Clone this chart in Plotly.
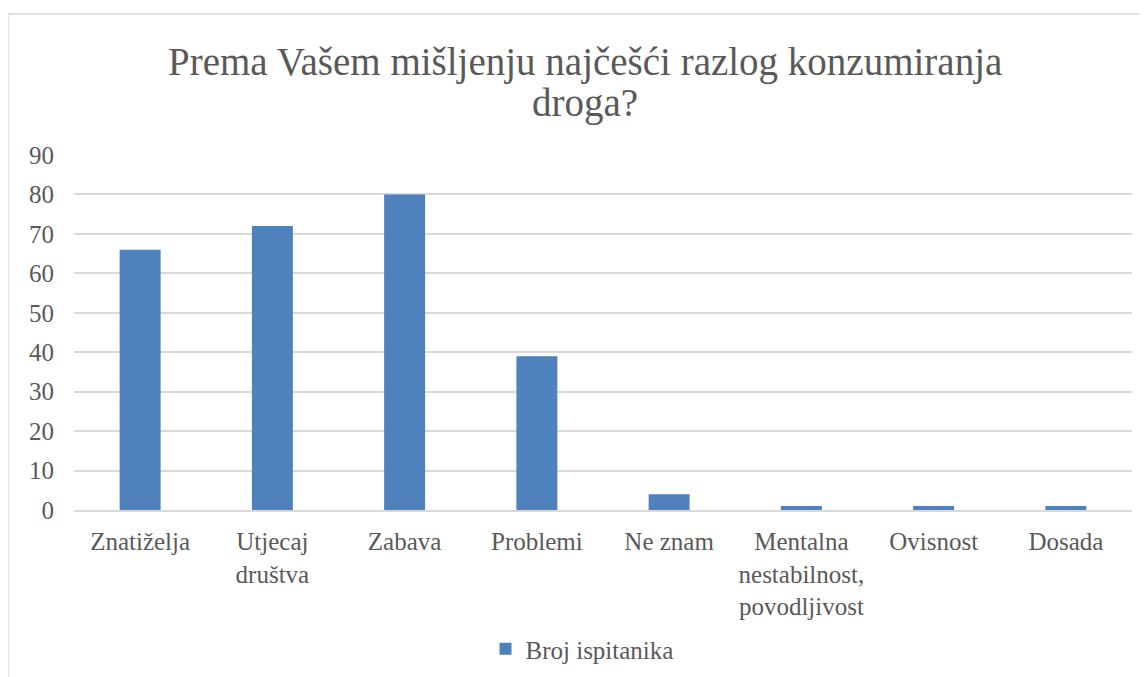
import plotly.graph_objects as go

categories = ["Znatiželja", "Utjecaj<br>društva", "Zabava", "Problemi", "Ne znam",
              "Mentalna<br>nestabilnost,<br>povodljivost", "Ovisnost", "Dosada"]
values = [66, 72, 80, 39, 4, 1, 1, 1]
series_name = "Broj ispitanika"
title_lines = ["Prema Vašem mišljenju najčešći razlog konzumiranja", "droga?"]
y_ticks = list(range(0, 100, 10))

# page has an 8px body margin; figure is sized to fit the window
OFF = 8
W, H = 1148 - OFF, 677 - OFF
L, R, T, B = 74 - OFF, 16, 155 - OFF, 677 - 510
pw, ph = W - L - R, H - T - B

font = "Liberation Serif, DejaVu Serif, serif"
gray = "#595959"

def px_x(x):
    return (x - OFF - L) / pw

def px_y(y):
    return 1 - (y - OFF - T) / ph

fig = go.Figure()
fig.add_trace(go.Bar(x=categories, y=values, name=series_name,
                     marker=dict(color="#4F81BD", line=dict(width=0)),
                     showlegend=True))

annotations = [
    dict(text=title_lines[0], x=px_x(585), y=px_y(62), xref="paper", yref="paper",
         xanchor="center", yanchor="middle", showarrow=False,
         font=dict(family=font, size=39, color=gray)),
    dict(text=title_lines[1], x=px_x(585), y=px_y(103), xref="paper", yref="paper",
         xanchor="center", yanchor="middle", showarrow=False,
         font=dict(family=font, size=39, color=gray)),
]

fig.update_layout(
    width=W, height=H,
    margin=dict(l=L, r=R, t=T, b=B, autoexpand=False),
    paper_bgcolor="white", plot_bgcolor="white",
    bargap=0.69,
    font=dict(family=font, color=gray, size=25),
    xaxis=dict(showgrid=False, showline=True, linecolor="#D9D9D9", linewidth=2,
               ticks="", automargin=False, ticklabelstandoff=8,
               tickfont=dict(size=25, color=gray)),
    yaxis=dict(range=[0, 90], tickvals=y_ticks, showgrid=True, gridcolor="#D9D9D9",
               gridwidth=1.5, zeroline=False, showline=False, ticks="", automargin=False,
               ticklabelstandoff=19, tickfont=dict(size=25, color=gray)),
    legend=dict(orientation="h", xref="container", yref="container",
                x=(582 - OFF) / W, xanchor="center",
                y=1 - (649 - OFF) / H, yanchor="middle",
                font=dict(size=25, color=gray)),
    annotations=annotations,
    shapes=[
        dict(type="line", xref="paper", yref="paper",
             x0=px_x(8), x1=px_x(1160), y0=px_y(14), y1=px_y(14),
             line=dict(color="#D9D9D9", width=1.5)),
        dict(type="line", xref="paper", yref="paper",
             x0=px_x(8), x1=px_x(8), y0=px_y(14), y1=px_y(690),
             line=dict(color="#D9D9D9", width=1.5)),
    ],
)

fig.write_html("out.html")
